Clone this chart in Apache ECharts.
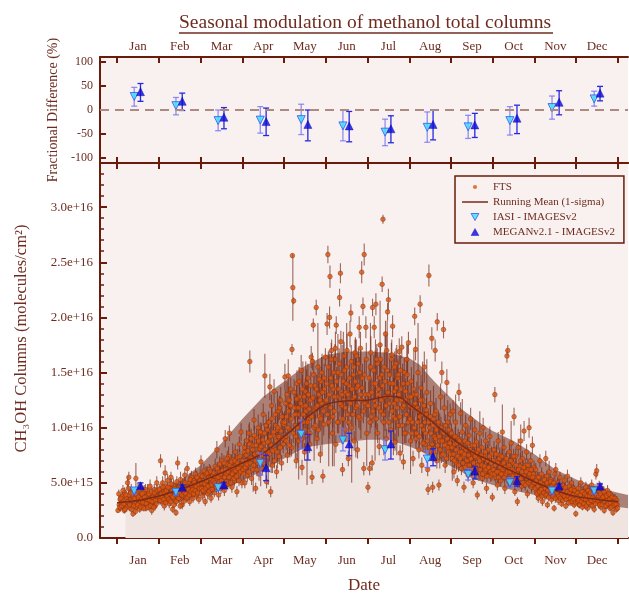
<!DOCTYPE html>
<html>
<head>
<meta charset="utf-8">
<title>Seasonal modulation of methanol total columns</title>
<script src="https://cdn.jsdelivr.net/npm/echarts@6/dist/echarts.min.js"></script>
<style>
  html, body { margin: 0; padding: 0; background: #fff; }
  #chart { width: 629px; height: 594px; }
</style>
</head>
<body>
<div id="chart"></div>
<script>
var FONT = "'Liberation Serif', 'DejaVu Serif', serif";
var AXIS = '#6a1c0c';
var TEXT = '#6e2c20';

// x axis: months, 0 = 1 Jan, 12 = 31 Dec
var months = ['Jan', 'Feb', 'Mar', 'Apr', 'May', 'Jun', 'Jul', 'Aug', 'Sep', 'Oct', 'Nov', 'Dec'];
var monthTicks = [0, 1, 2, 3, 4, 5, 6, 7, 8, 9, 10, 11, 12];
var monthMid = [0.5, 1.5, 2.5, 3.5, 4.5, 5.5, 6.5, 7.5, 8.5, 9.5, 10.5, 11.5];
var xMin = -0.41, xMax = 12.24;

var diffTicks = [-100, -50, 0, 50, 100];
var colTicks = [0, 0.5, 1, 1.5, 2, 2.5, 3];
var colTickLabels = ['0.0', '5.0e+15', '1.0e+16', '1.5e+16', '2.0e+16', '2.5e+16', '3.0e+16'];

// monthly model comparisons
var iasiX = [0.41, 1.41, 2.42, 3.43, 4.41, 5.41, 6.42, 7.43, 8.41, 9.41, 10.42, 11.43];
var meganX = [0.56, 1.56, 2.56, 3.57, 4.57, 5.56, 6.56, 7.57, 8.57, 9.58, 10.59, 11.57];

// fractional difference (%)
var iasiDiff = [28, 9, -22, -21, -20, -33, -46, -36, -35, -22, 5, 23];
var iasiDiffLo = [8, -10, -43, -48, -51, -64, -74, -67, -59, -52, -19, 8];
var iasiDiffHi = [47, 26, 0, 7, 12, 0, -19, -4, -11, 7, 29, 39];
var meganDiff = [38, 18, -15, -24, -30, -33, -39, -30, -31, -17, 16, 35];
var meganDiffLo = [18, -1, -39, -53, -64, -66, -68, -62, -57, -49, -10, 19];
var meganDiffHi = [55, 35, 5, 4, 0, -3, -12, 0, -7, 10, 40, 49];

// columns (1e16 molecules/cm2)
var iasiCol = [0.426, 0.414, 0.456, 0.677, 0.94, 0.888, 0.80, 0.716, 0.577, 0.50, 0.426, 0.426];
var iasiColLo = [0.40, 0.39, 0.43, 0.57, 0.81, 0.79, 0.707, 0.64, 0.526, 0.46, 0.40, 0.40];
var iasiColHi = [0.45, 0.44, 0.48, 0.77, 1.07, 0.995, 0.89, 0.79, 0.63, 0.547, 0.45, 0.45];
var meganCol = [0.474, 0.46, 0.48, 0.637, 0.828, 0.852, 0.852, 0.737, 0.607, 0.52, 0.47, 0.47];
var meganColLo = [0.45, 0.44, 0.455, 0.52, 0.707, 0.746, 0.716, 0.655, 0.535, 0.47, 0.45, 0.45];
var meganColHi = [0.50, 0.48, 0.505, 0.75, 0.94, 0.95, 0.97, 0.81, 0.65, 0.556, 0.49, 0.49];

// running mean and 1-sigma band
var meanX = [0, 0.5, 1, 1.5, 2, 2.5, 3, 3.5, 4, 4.5, 5, 5.5, 6, 6.5, 6.8, 7, 7.5, 8, 8.5, 9, 9.5, 10, 10.5, 11, 11.5, 12];
var meanY = [0.32, 0.34, 0.38, 0.44, 0.51, 0.59, 0.68, 0.77, 0.92, 1.08, 1.21, 1.245, 1.25, 1.285, 1.27, 1.21, 1.07, 0.91, 0.78, 0.69, 0.60, 0.51, 0.43, 0.375, 0.35, 0.33];
var bandX = [0.2, 0.5, 1, 1.5, 2, 2.5, 3, 3.5, 4, 4.5, 5, 5.5, 6, 6.5, 7, 7.25, 7.5, 7.75, 8, 8.25, 8.5, 8.75, 9, 9.5, 10, 10.5, 11, 11.5, 12, 12.24];
var bandHi = [0.37, 0.39, 0.44, 0.52, 0.66, 0.86, 1.08, 1.28, 1.42, 1.56, 1.66, 1.69, 1.69, 1.68, 1.63, 1.57, 1.46, 1.36, 1.27, 1.17, 1.10, 1.03, 0.97, 0.88, 0.76, 0.62, 0.53, 0.46, 0.41, 0.39];
var bandLo = [0.27, 0.28, 0.31, 0.33, 0.38, 0.43, 0.52, 0.61, 0.72, 0.82, 0.85, 0.87, 0.89, 0.89, 0.83, 0.79, 0.74, 0.70, 0.65, 0.60, 0.54, 0.51, 0.48, 0.43, 0.39, 0.35, 0.33, 0.31, 0.28, 0.27];

// FTS measurements [month position, column (1e16), error]
var ftsJan = [[0.02,0.25,0.02],[0.05,0.30,0.03],[0.07,0.35,0.04],[0.08,0.27,0.03],[0.10,0.32,0.05],[0.12,0.38,0.04],[0.13,0.29,0.03],[0.15,0.34,0.06],[0.17,0.25,0.03],[0.18,0.41,0.05],[0.20,0.31,0.04],[0.22,0.36,0.03],[0.23,0.28,0.04],[0.25,0.50,0.06],[0.26,0.33,0.05],[0.28,0.55,0.05],[0.29,0.39,0.04],[0.31,0.27,0.03],[0.33,0.35,0.07],[0.34,0.44,0.05],[0.36,0.30,0.04],[0.38,0.22,0.03],[0.39,0.37,0.05],[0.41,0.32,0.06],[0.43,0.40,0.04],[0.45,0.54,0.14],[0.46,0.28,0.04],[0.48,0.35,0.05],[0.50,0.42,0.08],[0.52,0.31,0.04],[0.54,0.26,0.03],[0.55,0.38,0.05],[0.57,0.33,0.06],[0.59,0.45,0.05],[0.61,0.29,0.04],[0.63,0.36,0.05],[0.65,0.41,0.07],[0.67,0.32,0.04],[0.69,0.27,0.03],[0.71,0.38,0.05],[0.73,0.43,0.06],[0.75,0.34,0.04],[0.77,0.30,0.05],[0.79,0.47,0.06],[0.81,0.36,0.04],[0.83,0.25,0.04],[0.85,0.40,0.05],[0.87,0.33,0.06],[0.89,0.44,0.05],[0.91,0.29,0.04],[0.93,0.38,0.05],[0.95,0.50,0.06],[0.97,0.35,0.04]];
var ftsJan2 = [[0.04,0.40,0.04],[0.06,0.28,0.03],[0.09,0.36,0.04],[0.11,0.29,0.03],[0.14,0.43,0.05],[0.16,0.31,0.04],[0.19,0.26,0.03],[0.21,0.39,0.05],[0.24,0.33,0.04],[0.27,0.45,0.05],[0.30,0.30,0.03],[0.32,0.41,0.05],[0.35,0.26,0.03],[0.37,0.34,0.04],[0.40,0.29,0.03],[0.42,0.36,0.05],[0.44,0.24,0.03],[0.47,0.39,0.04],[0.49,0.30,0.04],[0.51,0.37,0.05],[0.53,0.44,0.05],[0.56,0.28,0.03],[0.58,0.35,0.04],[0.60,0.40,0.05],[0.62,0.32,0.04],[0.64,0.27,0.03],[0.66,0.37,0.05],[0.68,0.44,0.05],[0.70,0.31,0.04],[0.72,0.35,0.04],[0.74,0.28,0.03],[0.76,0.40,0.05],[0.78,0.34,0.04],[0.80,0.29,0.03],[0.82,0.42,0.05],[0.84,0.33,0.04],[0.86,0.37,0.05],[0.88,0.28,0.03],[0.90,0.41,0.05],[0.92,0.34,0.04],[0.94,0.31,0.04],[0.96,0.43,0.05],[0.98,0.38,0.04]];
var ftsFeb = [[1.02,0.38,0.05],[1.04,0.70,0.06],[1.05,0.45,0.05],[1.07,0.33,0.04],[1.09,0.50,0.06],[1.11,0.42,0.05],[1.13,0.29,0.04],[1.15,0.59,0.07],[1.17,0.47,0.05],[1.19,0.36,0.05],[1.21,0.52,0.06],[1.23,0.40,0.04],[1.25,0.31,0.04],[1.27,0.45,0.10],[1.29,0.55,0.05],[1.31,0.38,0.05],[1.33,0.26,0.03],[1.35,0.48,0.06],[1.37,0.42,0.05],[1.39,0.34,0.04],[1.41,0.23,0.03],[1.43,0.51,0.05],[1.45,0.68,0.06],[1.46,0.40,0.06],[1.48,0.46,0.05],[1.50,0.35,0.04],[1.52,0.53,0.07],[1.54,0.43,0.05],[1.56,0.30,0.04],[1.58,0.49,0.05],[1.60,0.38,0.06],[1.62,0.57,0.06],[1.64,0.45,0.05],[1.66,0.36,0.04],[1.68,0.63,0.06],[1.70,0.42,0.05],[1.72,0.50,0.06],[1.74,0.33,0.04],[1.76,0.47,0.05],[1.78,0.55,0.06],[1.80,0.40,0.05],[1.82,0.36,0.04],[1.84,0.52,0.05],[1.86,0.45,0.06],[1.88,0.58,0.06],[1.90,0.39,0.05],[1.92,0.48,0.05],[1.94,0.43,0.05],[1.96,0.35,0.04],[1.98,0.52,0.06]];
var ftsFeb2 = [[1.01,0.44,0.05],[1.03,0.34,0.04],[1.06,0.40,0.05],[1.08,0.37,0.04],[1.10,0.46,0.05],[1.12,0.35,0.04],[1.14,0.41,0.05],[1.16,0.32,0.04],[1.18,0.43,0.05],[1.20,0.38,0.04],[1.22,0.46,0.05],[1.24,0.35,0.04],[1.26,0.40,0.05],[1.28,0.33,0.04],[1.30,0.49,0.05],[1.32,0.43,0.05],[1.34,0.37,0.04],[1.36,0.30,0.04],[1.38,0.45,0.05],[1.40,0.39,0.04],[1.42,0.33,0.04],[1.44,0.44,0.05],[1.47,0.36,0.04],[1.49,0.41,0.05],[1.51,0.29,0.03],[1.53,0.47,0.05],[1.55,0.39,0.04],[1.57,0.44,0.05],[1.59,0.33,0.04],[1.61,0.41,0.05],[1.63,0.50,0.05],[1.65,0.40,0.04],[1.67,0.46,0.05],[1.69,0.37,0.04],[1.71,0.44,0.05],[1.73,0.39,0.04],[1.75,0.53,0.06],[1.77,0.42,0.05],[1.79,0.48,0.05],[1.81,0.44,0.05],[1.83,0.40,0.04],[1.85,0.50,0.05],[1.87,0.43,0.05],[1.89,0.47,0.05],[1.91,0.55,0.06],[1.93,0.41,0.05],[1.95,0.49,0.05],[1.97,0.45,0.05],[1.99,0.57,0.06]];
var ftsMar = [[2.01,0.69,0.06],[2.03,0.45,0.05],[2.05,0.38,0.04],[2.07,0.52,0.06],[2.09,0.42,0.05],[2.11,0.33,0.04],[2.13,0.58,0.07],[2.15,0.47,0.05],[2.17,0.40,0.05],[2.19,0.55,0.06],[2.21,0.62,0.05],[2.23,0.44,0.06],[2.25,0.36,0.04],[2.27,0.50,0.12],[2.29,0.57,0.06],[2.31,0.46,0.05],[2.33,0.41,0.04],[2.35,0.65,0.07],[2.37,0.53,0.06],[2.39,0.80,0.08],[2.41,0.48,0.05],[2.43,0.39,0.05],[2.45,0.60,0.06],[2.47,0.55,0.10],[2.49,0.45,0.05],[2.51,0.70,0.07],[2.53,0.51,0.06],[2.55,0.62,0.05],[2.57,0.43,0.05],[2.59,0.90,0.08],[2.61,0.58,0.06],[2.63,0.67,0.06],[2.65,0.49,0.05],[2.67,0.74,0.09],[2.69,0.95,0.07],[2.71,0.56,0.06],[2.73,0.63,0.05],[2.75,0.46,0.05],[2.77,0.71,0.15],[2.79,0.60,0.06],[2.81,0.52,0.05],[2.83,0.78,0.07],[2.85,0.66,0.06],[2.87,0.42,0.05],[2.89,0.73,0.08],[2.91,0.58,0.06],[2.93,0.85,0.07],[2.95,0.64,0.06],[2.97,0.96,0.08],[2.99,0.50,0.05]];
var ftsMar2 = [[2.02,0.50,0.05],[2.04,0.56,0.06],[2.06,0.43,0.05],[2.08,0.61,0.06],[2.10,0.49,0.05],[2.12,0.45,0.05],[2.14,0.52,0.06],[2.16,0.59,0.06],[2.18,0.47,0.05],[2.20,0.42,0.05],[2.22,0.54,0.06],[2.24,0.60,0.06],[2.26,0.48,0.05],[2.28,0.44,0.05],[2.30,0.52,0.06],[2.32,0.59,0.06],[2.34,0.50,0.05],[2.36,0.56,0.06],[2.38,0.46,0.05],[2.40,0.63,0.06],[2.42,0.55,0.06],[2.44,0.51,0.05],[2.46,0.67,0.07],[2.48,0.58,0.06],[2.50,0.52,0.05],[2.52,0.61,0.06],[2.54,0.48,0.05],[2.56,0.68,0.07],[2.58,0.55,0.06],[2.60,0.62,0.06],[2.62,0.51,0.05],[2.64,0.72,0.07],[2.66,0.60,0.06],[2.68,0.55,0.06],[2.70,0.66,0.07],[2.72,0.50,0.05],[2.74,0.69,0.07],[2.76,0.58,0.06],[2.78,0.64,0.06],[2.80,0.54,0.06],[2.82,0.70,0.07],[2.84,0.61,0.06],[2.86,0.56,0.06],[2.88,0.68,0.07],[2.90,0.63,0.06],[2.92,0.52,0.05],[2.94,0.74,0.07],[2.96,0.60,0.06],[2.98,0.67,0.07]];
var ftsApr = [[3.02,0.62,0.06],[3.04,0.78,0.08],[3.06,0.50,0.05],[3.08,0.70,0.07],[3.10,0.88,0.10],[3.12,0.57,0.06],[3.14,0.66,0.07],[3.16,0.95,0.08],[3.18,1.60,0.10],[3.20,0.73,0.07],[3.22,0.54,0.06],[3.24,0.84,0.09],[3.26,0.62,0.20],[3.28,1.07,0.10],[3.30,0.76,0.07],[3.32,0.45,0.05],[3.34,0.91,0.08],[3.36,0.68,0.07],[3.38,1.00,0.12],[3.40,0.58,0.06],[3.42,0.81,0.08],[3.44,0.72,0.25],[3.46,0.95,0.09],[3.48,0.63,0.06],[3.50,1.12,0.10],[3.52,0.86,0.08],[3.54,1.47,0.20],[3.56,0.70,0.07],[3.58,0.51,0.06],[3.60,0.98,0.09],[3.62,0.78,0.30],[3.64,0.88,0.08],[3.66,1.37,0.12],[3.68,0.42,0.05],[3.70,1.20,0.10],[3.72,0.66,0.07],[3.74,0.93,0.09],[3.76,1.33,0.11],[3.78,0.80,0.08],[3.80,1.02,0.10],[3.82,0.60,0.06],[3.84,0.98,0.35],[3.86,1.15,0.10],[3.88,0.74,0.07],[3.90,0.90,0.09],[3.92,1.25,0.12],[3.94,0.68,0.07],[3.96,1.05,0.10],[3.98,0.85,0.08]];
var ftsApr2 = [[3.01,0.70,0.07],[3.03,0.58,0.06],[3.05,0.82,0.08],[3.07,0.64,0.06],[3.09,0.75,0.07],[3.11,0.67,0.07],[3.13,0.79,0.08],[3.15,0.60,0.06],[3.17,0.85,0.20],[3.19,0.68,0.07],[3.21,0.90,0.09],[3.23,0.72,0.07],[3.25,0.80,0.08],[3.27,0.66,0.07],[3.29,0.93,0.09],[3.31,0.70,0.07],[3.33,0.84,0.08],[3.35,0.62,0.06],[3.37,0.77,0.08],[3.39,0.88,0.09],[3.41,0.71,0.07],[3.43,0.96,0.09],[3.45,0.83,0.08],[3.47,0.75,0.07],[3.49,0.89,0.09],[3.51,0.68,0.07],[3.53,0.95,0.09],[3.55,0.80,0.08],[3.57,1.02,0.10],[3.59,0.73,0.07],[3.61,0.87,0.08],[3.63,1.05,0.10],[3.65,0.76,0.07],[3.67,0.92,0.09],[3.69,0.84,0.25],[3.71,1.08,0.10],[3.73,0.79,0.08],[3.75,0.96,0.09],[3.77,0.70,0.07],[3.79,1.12,0.10],[3.81,0.88,0.08],[3.83,0.78,0.08],[3.85,1.00,0.10],[3.87,0.92,0.09],[3.89,1.18,0.11],[3.91,0.82,0.08],[3.93,0.97,0.09],[3.95,1.10,0.10],[3.97,0.90,0.09],[3.99,1.03,0.10]];
var ftsMay = [[4.02,1.46,0.12],[4.04,0.92,0.08],[4.06,1.10,0.10],[4.08,0.75,0.07],[4.10,1.47,0.15],[4.12,1.25,0.12],[4.14,0.98,0.25],[4.16,1.35,0.10],[4.18,0.82,0.08],[4.19,1.71,0.05],[4.20,2.56,0.02],[4.21,2.27,0.30],[4.23,2.15,0.03],[4.25,1.18,0.10],[4.27,1.02,0.30],[4.29,0.70,0.07],[4.31,1.40,0.12],[4.33,1.12,0.10],[4.35,0.88,0.35],[4.37,1.28,0.11],[4.39,0.96,0.09],[4.41,1.52,0.14],[4.43,0.64,0.07],[4.45,1.20,0.40],[4.47,1.05,0.10],[4.49,0.78,0.08],[4.51,1.33,0.12],[4.53,1.15,0.10],[4.55,0.93,0.45],[4.57,1.45,0.13],[4.59,1.08,0.10],[4.61,0.85,0.08],[4.63,1.25,0.12],[4.65,1.64,0.10],[4.67,0.55,0.06],[4.68,1.60,0.08],[4.70,1.93,0.06],[4.72,1.00,0.30],[4.74,1.38,0.12],[4.76,1.18,0.10],[4.77,2.09,0.07],[4.79,0.90,0.09],[4.81,1.55,0.40],[4.83,1.30,0.11],[4.85,1.10,0.10],[4.87,0.76,0.08],[4.89,1.42,0.13],[4.91,1.22,0.45],[4.93,0.56,0.06],[4.95,1.03,0.10],[4.97,1.35,0.12],[4.99,1.64,0.08]];
var ftsMay2 = [[4.01,1.05,0.10],[4.03,1.22,0.12],[4.05,0.88,0.08],[4.07,1.30,0.12],[4.09,1.00,0.10],[4.11,1.15,0.11],[4.13,0.84,0.08],[4.15,1.20,0.12],[4.17,1.08,0.10],[4.22,0.95,0.09],[4.24,1.32,0.12],[4.26,1.12,0.11],[4.28,0.92,0.09],[4.30,1.26,0.12],[4.32,1.00,0.30],[4.34,1.18,0.11],[4.36,1.42,0.13],[4.38,1.06,0.10],[4.40,1.22,0.12],[4.42,0.90,0.09],[4.44,1.35,0.13],[4.46,1.12,0.11],[4.48,1.28,0.12],[4.50,0.98,0.09],[4.52,1.20,0.40],[4.54,1.40,0.13],[4.56,1.05,0.10],[4.58,1.30,0.12],[4.60,1.17,0.11],[4.62,0.95,0.09],[4.64,1.38,0.13],[4.66,1.10,0.10],[4.69,1.27,0.12],[4.71,1.48,0.14],[4.73,1.15,0.11],[4.75,1.02,0.10],[4.78,1.35,0.13],[4.80,1.20,0.11],[4.82,0.98,0.09],[4.84,1.44,0.13],[4.86,1.25,0.12],[4.88,1.08,0.10],[4.90,1.50,0.14],[4.92,1.32,0.12],[4.94,1.15,0.11],[4.96,1.45,0.13],[4.98,1.20,0.11]];
var ftsJun = [[5.01,1.25,0.12],[5.03,1.94,0.10],[5.05,2.57,0.08],[5.07,1.05,0.40],[5.09,2.00,0.10],[5.10,2.37,0.10],[5.12,1.45,0.13],[5.14,1.70,0.10],[5.16,0.95,0.30],[5.18,1.35,0.12],[5.20,1.15,0.50],[5.22,1.62,0.14],[5.24,0.85,0.08],[5.25,1.93,0.08],[5.27,1.28,0.12],[5.29,1.50,0.35],[5.31,1.05,0.10],[5.33,2.18,0.08],[5.35,2.40,0.09],[5.36,1.78,0.10],[5.38,1.20,0.12],[5.40,0.62,0.06],[5.42,1.42,0.45],[5.44,1.65,0.13],[5.46,0.98,0.10],[5.48,1.32,0.12],[5.50,1.55,0.40],[5.52,1.12,0.10],[5.54,0.72,0.07],[5.56,1.38,0.13],[5.58,1.85,0.12],[5.60,2.04,0.08],[5.62,1.00,0.50],[5.64,1.25,0.12],[5.66,1.48,0.14],[5.68,0.88,0.09],[5.70,1.68,0.12],[5.72,1.18,0.45],[5.74,1.36,0.12],[5.76,0.80,0.08],[5.78,1.58,0.14],[5.80,1.91,0.10],[5.82,1.08,0.10],[5.84,1.30,0.40],[5.86,2.41,0.10],[5.88,1.45,0.13],[5.89,2.10,0.08],[5.91,0.63,0.06],[5.92,2.57,0.10],[5.94,1.22,0.12],[5.96,1.91,0.10],[5.98,0.95,0.30]];
var ftsJun2 = [[5.02,1.40,0.13],[5.04,1.12,0.11],[5.06,1.55,0.14],[5.08,1.30,0.40],[5.11,1.18,0.11],[5.13,1.62,0.15],[5.15,1.38,0.13],[5.17,1.10,0.10],[5.19,1.50,0.14],[5.21,1.28,0.12],[5.23,1.72,0.15],[5.26,1.42,0.13],[5.28,1.05,0.10],[5.30,1.35,0.12],[5.32,1.58,0.14],[5.34,1.22,0.12],[5.37,1.48,0.14],[5.39,1.30,0.45],[5.41,1.08,0.10],[5.43,1.25,0.12],[5.45,1.52,0.14],[5.47,1.18,0.11],[5.49,1.40,0.13],[5.51,1.70,0.15],[5.53,1.30,0.12],[5.55,1.05,0.10],[5.57,1.45,0.13],[5.59,1.22,0.12],[5.61,1.60,0.15],[5.63,1.35,0.13],[5.65,1.12,0.11],[5.67,1.55,0.14],[5.69,1.28,0.12],[5.71,1.42,0.40],[5.73,1.65,0.15],[5.75,1.20,0.11],[5.77,1.38,0.13],[5.79,1.10,0.10],[5.81,1.50,0.14],[5.83,1.72,0.15],[5.85,1.25,0.12],[5.87,1.36,0.13],[5.90,1.15,0.11],[5.93,1.48,0.14],[5.95,1.30,0.12],[5.97,1.62,0.15],[5.99,1.20,0.11]];
var ftsJul = [[6.01,0.46,0.05],[6.03,1.30,0.12],[6.05,0.63,0.06],[6.07,1.55,0.40],[6.09,1.10,0.10],[6.11,0.68,0.07],[6.12,2.09,0.08],[6.14,1.40,0.13],[6.16,1.91,0.10],[6.18,1.20,0.50],[6.20,2.12,0.10],[6.22,1.62,0.14],[6.24,0.95,0.09],[6.26,1.35,0.12],[6.28,0.83,0.08],[6.30,1.75,0.40],[6.32,1.15,0.10],[6.34,1.48,0.13],[6.35,2.30,0.07],[6.37,2.89,0.04],[6.39,1.05,0.30],[6.41,1.28,0.12],[6.43,1.85,0.12],[6.45,0.90,0.09],[6.47,1.52,0.45],[6.48,2.05,0.08],[6.50,2.16,0.10],[6.52,1.22,0.12],[6.54,1.40,0.13],[6.56,0.98,0.10],[6.58,1.66,0.14],[6.60,1.92,0.10],[6.62,1.10,0.35],[6.64,1.33,0.12],[6.66,0.87,0.08],[6.68,1.58,0.14],[6.70,1.25,0.50],[6.72,1.45,0.13],[6.74,1.02,0.10],[6.76,1.69,0.12],[6.78,0.77,0.07],[6.80,1.35,0.12],[6.82,1.73,0.10],[6.84,1.18,0.40],[6.86,0.69,0.07],[6.88,1.50,0.13],[6.90,1.25,0.12],[6.92,0.95,0.09],[6.94,1.62,0.14],[6.96,1.40,0.35],[6.98,1.77,0.10]];
var ftsJul2 = [[6.02,1.20,0.11],[6.04,1.45,0.13],[6.06,1.05,0.10],[6.08,1.68,0.15],[6.10,1.32,0.12],[6.13,1.15,0.11],[6.15,1.52,0.14],[6.17,1.25,0.12],[6.19,1.40,0.40],[6.21,1.08,0.10],[6.23,1.58,0.14],[6.25,1.30,0.12],[6.27,1.18,0.11],[6.29,1.45,0.13],[6.31,1.62,0.15],[6.33,1.25,0.12],[6.36,1.38,0.13],[6.38,1.12,0.10],[6.40,1.55,0.14],[6.42,1.42,0.45],[6.44,1.20,0.11],[6.46,1.70,0.15],[6.49,1.32,0.12],[6.51,1.05,0.10],[6.53,1.48,0.14],[6.55,1.28,0.12],[6.57,1.62,0.15],[6.59,1.15,0.11],[6.61,1.40,0.13],[6.63,1.22,0.40],[6.65,1.55,0.14],[6.67,1.08,0.10],[6.69,1.36,0.13],[6.71,1.18,0.11],[6.73,1.48,0.14],[6.75,1.30,0.12],[6.77,1.10,0.10],[6.79,1.52,0.14],[6.81,1.25,0.12],[6.83,1.02,0.10],[6.85,1.40,0.13],[6.87,1.20,0.11],[6.89,0.95,0.09],[6.91,1.33,0.12],[6.93,1.12,0.11],[6.95,1.48,0.14],[6.97,1.05,0.10],[6.99,1.28,0.12]];
var ftsAug = [[7.01,1.20,0.12],[7.03,0.88,0.30],[7.05,1.42,0.13],[7.07,1.05,0.10],[7.09,0.72,0.07],[7.11,1.30,0.40],[7.13,2.01,0.08],[7.15,1.71,0.10],[7.17,0.95,0.09],[7.19,1.18,0.12],[7.21,1.50,0.45],[7.23,0.80,0.08],[7.25,1.10,0.10],[7.26,2.12,0.08],[7.28,1.36,0.12],[7.30,0.66,0.07],[7.32,1.25,0.35],[7.34,0.98,0.09],[7.36,1.55,0.14],[7.38,0.85,0.08],[7.40,1.12,0.10],[7.42,1.32,0.30],[7.44,0.62,0.06],[7.45,0.44,0.05],[7.47,2.38,0.10],[7.49,1.00,0.10],[7.51,1.22,0.12],[7.53,0.78,0.08],[7.54,1.81,0.10],[7.56,0.46,0.05],[7.58,1.08,0.30],[7.60,0.92,0.09],[7.62,1.70,0.10],[7.64,1.15,0.12],[7.66,0.70,0.07],[7.67,1.96,0.08],[7.69,1.02,0.10],[7.71,0.48,0.05],[7.73,0.88,0.25],[7.75,1.28,0.12],[7.77,0.75,0.07],[7.78,1.50,0.10],[7.80,0.96,0.09],[7.82,1.89,0.08],[7.84,1.18,0.12],[7.86,0.66,0.07],[7.88,0.85,0.08],[7.90,1.41,0.12],[7.92,1.05,0.20],[7.94,0.78,0.08],[7.96,0.92,0.09],[7.98,1.12,0.10]];
var ftsAug2 = [[7.02,1.08,0.10],[7.04,1.28,0.12],[7.06,0.95,0.09],[7.08,1.18,0.11],[7.10,1.35,0.13],[7.12,1.00,0.10],[7.14,1.22,0.12],[7.16,0.90,0.09],[7.18,1.30,0.12],[7.20,1.05,0.10],[7.22,1.15,0.11],[7.24,0.92,0.09],[7.27,1.25,0.12],[7.29,1.02,0.10],[7.31,1.12,0.30],[7.33,0.86,0.08],[7.35,1.20,0.11],[7.37,1.05,0.10],[7.39,0.95,0.09],[7.41,1.16,0.11],[7.43,0.88,0.08],[7.46,1.05,0.10],[7.48,0.82,0.08],[7.50,1.10,0.11],[7.52,0.95,0.09],[7.55,0.85,0.08],[7.57,1.02,0.10],[7.59,0.78,0.08],[7.61,1.12,0.11],[7.63,0.90,0.09],[7.65,0.98,0.09],[7.68,0.84,0.08],[7.70,1.05,0.10],[7.72,0.92,0.09],[7.74,0.80,0.08],[7.76,1.00,0.10],[7.79,0.88,0.08],[7.81,0.76,0.07],[7.83,0.95,0.09],[7.85,0.84,0.08],[7.87,1.02,0.10],[7.89,0.72,0.07],[7.91,0.90,0.09],[7.93,0.82,0.08],[7.95,0.98,0.09],[7.97,0.86,0.08],[7.99,0.76,0.07]];
var ftsSep = [[8.01,0.95,0.09],[8.03,0.72,0.20],[8.05,1.15,0.10],[8.07,0.60,0.06],[8.09,0.85,0.08],[8.11,1.05,0.25],[8.13,0.68,0.07],[8.15,0.52,0.05],[8.17,0.90,0.09],[8.19,1.32,0.08],[8.21,0.78,0.07],[8.23,1.13,0.10],[8.25,0.63,0.06],[8.27,0.96,0.30],[8.29,0.74,0.07],[8.31,0.46,0.05],[8.33,0.88,0.08],[8.35,1.02,0.10],[8.37,0.66,0.06],[8.39,0.80,0.20],[8.41,0.57,0.06],[8.43,0.93,0.09],[8.45,0.71,0.07],[8.47,1.08,0.10],[8.49,0.62,0.06],[8.51,0.84,0.25],[8.53,0.50,0.05],[8.55,0.76,0.07],[8.57,0.98,0.09],[8.59,0.65,0.06],[8.61,0.87,0.08],[8.63,0.39,0.04],[8.65,0.72,0.07],[8.67,0.58,0.06],[8.69,0.95,0.20],[8.71,0.68,0.07],[8.73,0.82,0.08],[8.75,0.54,0.05],[8.77,1.00,0.09],[8.79,0.74,0.07],[8.81,0.60,0.06],[8.83,0.88,0.08],[8.85,0.45,0.05],[8.87,0.70,0.15],[8.89,0.80,0.08],[8.91,0.63,0.06],[8.93,0.92,0.09],[8.95,0.56,0.05],[8.97,0.76,0.07],[8.99,0.37,0.04]];
var ftsSep2 = [[8.02,0.82,0.08],[8.04,0.90,0.09],[8.06,0.76,0.07],[8.08,0.70,0.07],[8.10,0.92,0.09],[8.12,0.80,0.08],[8.14,0.86,0.08],[8.16,0.74,0.07],[8.18,0.66,0.06],[8.20,0.88,0.08],[8.22,0.72,0.07],[8.24,0.84,0.08],[8.26,0.78,0.07],[8.28,0.68,0.07],[8.30,0.82,0.08],[8.32,0.76,0.07],[8.34,0.64,0.06],[8.36,0.80,0.08],[8.38,0.70,0.07],[8.40,0.86,0.08],[8.42,0.75,0.07],[8.44,0.66,0.06],[8.46,0.80,0.08],[8.48,0.72,0.07],[8.50,0.62,0.06],[8.52,0.78,0.07],[8.54,0.68,0.07],[8.56,0.84,0.08],[8.58,0.74,0.07],[8.60,0.60,0.06],[8.62,0.77,0.07],[8.64,0.66,0.06],[8.66,0.80,0.08],[8.68,0.70,0.07],[8.70,0.62,0.06],[8.72,0.75,0.07],[8.74,0.66,0.06],[8.76,0.58,0.06],[8.78,0.72,0.07],[8.80,0.65,0.06],[8.82,0.78,0.07],[8.84,0.62,0.06],[8.86,0.56,0.05],[8.88,0.70,0.07],[8.90,0.64,0.06],[8.92,0.74,0.07],[8.94,0.60,0.06],[8.96,0.68,0.07],[8.98,0.58,0.06]];
var ftsOct = [[9.01,0.62,0.06],[9.03,0.80,0.08],[9.05,1.30,0.07],[9.07,0.55,0.05],[9.09,0.70,0.15],[9.11,0.48,0.05],[9.13,0.88,0.08],[9.15,0.60,0.06],[9.17,0.75,0.07],[9.19,0.52,0.05],[9.21,0.66,0.07],[9.23,0.96,0.25],[9.25,0.58,0.06],[9.27,0.82,0.08],[9.29,0.45,0.05],[9.31,0.70,0.07],[9.34,1.65,0.06],[9.36,1.70,0.05],[9.38,0.63,0.06],[9.40,0.78,0.07],[9.42,0.50,0.05],[9.44,0.86,0.20],[9.46,0.57,0.06],[9.48,0.68,0.07],[9.51,1.10,0.08],[9.53,0.42,0.04],[9.55,0.74,0.07],[9.57,0.60,0.06],[9.59,0.33,0.04],[9.61,0.82,0.08],[9.63,0.53,0.05],[9.65,0.65,0.06],[9.67,0.88,0.15],[9.69,0.47,0.05],[9.71,0.72,0.07],[9.73,0.58,0.06],[9.75,0.97,0.09],[9.77,0.50,0.05],[9.79,0.66,0.06],[9.81,0.78,0.07],[9.83,0.40,0.04],[9.85,0.62,0.06],[9.87,1.00,0.09],[9.89,0.55,0.05],[9.91,0.70,0.07],[9.93,0.46,0.05],[9.95,0.84,0.08],[9.97,0.58,0.06],[9.99,0.64,0.06]];
var ftsOct2 = [[9.02,0.70,0.07],[9.04,0.58,0.06],[9.06,0.66,0.06],[9.08,0.76,0.07],[9.10,0.60,0.06],[9.12,0.68,0.07],[9.14,0.55,0.05],[9.16,0.72,0.07],[9.18,0.64,0.06],[9.20,0.58,0.06],[9.22,0.74,0.07],[9.24,0.62,0.06],[9.26,0.68,0.07],[9.28,0.55,0.05],[9.30,0.64,0.06],[9.32,0.58,0.06],[9.33,0.72,0.07],[9.35,0.60,0.06],[9.37,0.52,0.05],[9.39,0.66,0.06],[9.41,0.60,0.06],[9.43,0.70,0.07],[9.45,0.54,0.05],[9.47,0.62,0.06],[9.49,0.56,0.05],[9.50,0.74,0.07],[9.52,0.60,0.06],[9.54,0.52,0.05],[9.56,0.66,0.06],[9.58,0.58,0.06],[9.60,0.50,0.05],[9.62,0.62,0.06],[9.64,0.56,0.05],[9.66,0.70,0.07],[9.68,0.54,0.05],[9.70,0.60,0.06],[9.72,0.50,0.05],[9.74,0.64,0.06],[9.76,0.56,0.05],[9.78,0.48,0.05],[9.80,0.60,0.06],[9.82,0.54,0.05],[9.84,0.66,0.06],[9.86,0.50,0.05],[9.88,0.58,0.06],[9.90,0.52,0.05],[9.92,0.62,0.06],[9.94,0.48,0.05],[9.96,0.55,0.05],[9.98,0.50,0.05]];
var ftsNov = [[10.01,0.50,0.05],[10.03,0.62,0.06],[10.05,0.42,0.05],[10.07,0.55,0.05],[10.09,0.36,0.04],[10.11,0.48,0.05],[10.13,0.70,0.06],[10.15,0.40,0.04],[10.17,0.58,0.06],[10.19,0.33,0.04],[10.21,0.52,0.05],[10.23,0.45,0.05],[10.25,0.38,0.04],[10.27,0.72,0.07],[10.29,0.56,0.05],[10.31,0.30,0.03],[10.33,0.47,0.05],[10.35,0.60,0.10],[10.37,0.41,0.04],[10.39,0.53,0.05],[10.41,0.35,0.04],[10.43,0.49,0.05],[10.45,0.44,0.05],[10.47,0.27,0.03],[10.49,0.58,0.06],[10.51,0.62,0.06],[10.53,0.39,0.04],[10.55,0.50,0.05],[10.57,0.34,0.04],[10.59,0.46,0.08],[10.61,0.55,0.05],[10.63,0.42,0.04],[10.65,0.31,0.03],[10.67,0.48,0.05],[10.69,0.38,0.04],[10.71,0.52,0.05],[10.73,0.44,0.05],[10.75,0.29,0.03],[10.77,0.40,0.04],[10.79,0.56,0.06],[10.81,0.35,0.04],[10.83,0.47,0.05],[10.85,0.42,0.05],[10.87,0.33,0.04],[10.89,0.50,0.05],[10.91,0.38,0.04],[10.93,0.45,0.05],[10.95,0.30,0.03],[10.97,0.41,0.04],[10.99,0.22,0.03]];
var ftsNov2 = [[10.02,0.45,0.05],[10.04,0.52,0.05],[10.06,0.40,0.04],[10.08,0.47,0.05],[10.10,0.55,0.05],[10.12,0.42,0.04],[10.14,0.50,0.05],[10.16,0.44,0.04],[10.18,0.38,0.04],[10.20,0.48,0.05],[10.22,0.41,0.04],[10.24,0.53,0.05],[10.26,0.45,0.05],[10.28,0.39,0.04],[10.30,0.50,0.05],[10.32,0.43,0.04],[10.34,0.37,0.04],[10.36,0.46,0.05],[10.38,0.51,0.05],[10.40,0.42,0.04],[10.42,0.47,0.05],[10.44,0.38,0.04],[10.46,0.50,0.05],[10.48,0.43,0.04],[10.50,0.36,0.04],[10.52,0.46,0.05],[10.54,0.41,0.04],[10.56,0.48,0.05],[10.58,0.38,0.04],[10.60,0.44,0.04],[10.62,0.36,0.04],[10.64,0.45,0.05],[10.66,0.40,0.04],[10.68,0.34,0.04],[10.70,0.43,0.04],[10.72,0.38,0.04],[10.74,0.46,0.05],[10.76,0.35,0.04],[10.78,0.42,0.04],[10.80,0.38,0.04],[10.82,0.32,0.03],[10.84,0.40,0.04],[10.86,0.36,0.04],[10.88,0.44,0.05],[10.90,0.33,0.04],[10.92,0.39,0.04],[10.94,0.35,0.04],[10.96,0.43,0.05],[10.98,0.32,0.03]];
var ftsDec = [[11.01,0.40,0.04],[11.03,0.33,0.04],[11.05,0.45,0.05],[11.07,0.30,0.03],[11.09,0.38,0.04],[11.11,0.50,0.05],[11.13,0.35,0.04],[11.15,0.28,0.03],[11.17,0.42,0.05],[11.19,0.37,0.04],[11.21,0.31,0.04],[11.23,0.46,0.05],[11.25,0.39,0.04],[11.27,0.27,0.03],[11.29,0.34,0.04],[11.31,0.43,0.05],[11.33,0.36,0.08],[11.35,0.30,0.03],[11.37,0.48,0.05],[11.39,0.40,0.04],[11.41,0.33,0.04],[11.43,0.26,0.03],[11.45,0.44,0.05],[11.47,0.58,0.05],[11.49,0.61,0.06],[11.51,0.37,0.04],[11.53,0.31,0.04],[11.55,0.42,0.10],[11.57,0.35,0.04],[11.59,0.28,0.03],[11.61,0.45,0.05],[11.63,0.38,0.04],[11.65,0.32,0.04],[11.67,0.25,0.03],[11.69,0.40,0.05],[11.71,0.35,0.04],[11.73,0.29,0.03],[11.75,0.43,0.05],[11.77,0.37,0.04],[11.79,0.31,0.04],[11.81,0.27,0.03],[11.83,0.39,0.04],[11.85,0.34,0.04],[11.87,0.30,0.03],[11.88,0.23,0.03],[11.90,0.36,0.04],[11.92,0.28,0.03],[11.94,0.33,0.04],[11.96,0.26,0.03],[11.98,0.30,0.03]];
var ftsDec2 = [[11.02,0.36,0.04],[11.04,0.41,0.04],[11.06,0.34,0.04],[11.08,0.30,0.03],[11.10,0.39,0.04],[11.12,0.33,0.04],[11.14,0.42,0.05],[11.16,0.36,0.04],[11.18,0.31,0.04],[11.20,0.40,0.04],[11.22,0.35,0.04],[11.24,0.29,0.03],[11.26,0.38,0.04],[11.28,0.43,0.05],[11.30,0.32,0.04],[11.32,0.38,0.04],[11.34,0.41,0.04],[11.36,0.34,0.04],[11.38,0.29,0.03],[11.40,0.37,0.04],[11.42,0.42,0.05],[11.44,0.35,0.04],[11.46,0.31,0.04],[11.48,0.39,0.04],[11.50,0.45,0.05],[11.52,0.34,0.04],[11.54,0.38,0.04],[11.56,0.30,0.03],[11.58,0.40,0.04],[11.60,0.35,0.04],[11.62,0.30,0.03],[11.64,0.37,0.04],[11.66,0.42,0.05],[11.68,0.33,0.04],[11.70,0.29,0.03],[11.72,0.38,0.04],[11.74,0.34,0.04],[11.76,0.31,0.04],[11.78,0.40,0.04],[11.80,0.35,0.04],[11.82,0.32,0.04],[11.84,0.28,0.03],[11.86,0.37,0.04],[11.89,0.33,0.04],[11.91,0.30,0.03],[11.93,0.36,0.04],[11.95,0.31,0.04],[11.97,0.34,0.04],[11.99,0.27,0.03]];

var fts = [].concat(ftsJan, ftsJan2, ftsFeb, ftsFeb2, ftsMar, ftsMar2, ftsApr, ftsApr2, ftsMay, ftsMay2, ftsJun, ftsJun2,
  ftsJul, ftsJul2, ftsAug, ftsAug2, ftsSep, ftsSep2, ftsOct, ftsOct2, ftsNov, ftsNov2, ftsDec, ftsDec2);

var chart = echarts.init(document.getElementById('chart'));

function monthAxis(grid, pos, inside, showLabel, margin) {
  return {
    type: 'value', gridIndex: grid, position: pos, min: xMin, max: xMax,
    axisLine: { show: true, onZero: false, lineStyle: { color: AXIS, width: 2 } },
    axisTick: { show: true, inside: inside, length: 6, customValues: monthTicks, lineStyle: { color: AXIS, width: 2 } },
    axisLabel: {
      show: showLabel, customValues: monthMid, margin: margin,
      formatter: function (v) { return months[Math.floor(v)]; },
      color: TEXT, fontFamily: FONT, fontSize: 13
    },
    splitLine: { show: false }
  };
}

// vertical error bar with optional caps
function errBar(color, width, cap) {
  return function (params, api) {
    var x = api.value(0);
    var p1 = api.coord([x, api.value(2)]);
    var p2 = api.coord([x, api.value(1)]);
    var st = { stroke: color, lineWidth: width };
    var kids = [{ type: 'line', shape: { x1: p1[0], y1: p1[1], x2: p2[0], y2: p2[1] }, style: st }];
    if (cap) {
      kids.push({ type: 'line', shape: { x1: p1[0] - cap, y1: p1[1], x2: p1[0] + cap, y2: p1[1] }, style: st });
      kids.push({ type: 'line', shape: { x1: p2[0] - cap, y1: p2[1], x2: p2[0] + cap, y2: p2[1] }, style: st });
    }
    return { type: 'group', children: kids };
  };
}

function bars(xs, lo, hi) {
  return xs.map(function (x, i) { return [x, lo[i], hi[i]]; });
}
function pts(xs, ys) {
  return xs.map(function (x, i) { return [x, ys[i]]; });
}

var IASI_STYLE = { color: '#3ee0fa', borderColor: '#3058f0', borderWidth: 1 };
var MEGAN_STYLE = { color: '#0a0ad8', borderColor: '#0000b0', borderWidth: 0.5 };

var option = {
  animation: false,
  title: {
    text: 'Seasonal modulation of methanol total columns',
    left: 179, top: 13, padding: 0,
    textStyle: { color: TEXT, fontFamily: FONT, fontSize: 19.5, fontWeight: 'normal' }
  },
  graphic: [{
    type: 'line', shape: { x1: 179, y1: 33, x2: 553, y2: 33 },
    style: { stroke: TEXT, lineWidth: 1.5 }
  }],
  legend: {
    orient: 'vertical', left: 455, top: 176, padding: [4, 9, 4, 7],
    itemWidth: 26, itemHeight: 7, itemGap: 1,
    borderColor: AXIS, borderWidth: 1.5, selectedMode: false,
    textStyle: { color: TEXT, fontFamily: FONT, fontSize: 11, lineHeight: 14 },
    data: [
      { name: 'FTS', icon: 'path://M0,0M10,10M5,2A3,3,0,1,1,5,8A3,3,0,1,1,5,2Z', itemStyle: { color: '#dc5612', borderWidth: 0 } },
      { name: 'Running Mean (1-sigma)', icon: 'path://M0,0L26,0L26,1.5L0,1.5Z', itemStyle: { color: '#7a2a1a', borderWidth: 0 } },
      { name: 'IASI - IMAGESv2', icon: 'path://M0,0L10,0L5,9Z', itemStyle: IASI_STYLE },
      { name: 'MEGANv2.1 - IMAGESv2', icon: 'path://M5,0L10,9L0,9Z', itemStyle: MEGAN_STYLE }
    ]
  },
  grid: [
    { left: 100, top: 57, width: 528, height: 106, show: true, backgroundColor: '#f8f1ef', borderWidth: 0, outerBoundsMode: 'none', containLabel: false },
    { left: 100, top: 163, width: 528, height: 375, show: true, backgroundColor: '#f8f1ef', borderWidth: 0, outerBoundsMode: 'none', containLabel: false }
  ],
  xAxis: [
    monthAxis(0, 'top', true, true, 4),
    monthAxis(0, 'bottom', true, false, 6),
    monthAxis(1, 'top', true, false, 6),
    Object.assign(monthAxis(1, 'bottom', false, true, 16), {
      name: 'Date', nameLocation: 'middle', nameGap: 39,
      nameTextStyle: { color: TEXT, fontFamily: FONT, fontSize: 17 }
    })
  ],
  yAxis: [
    {
      type: 'value', gridIndex: 0, position: 'left', min: -110, max: 110,
      axisLine: { show: true, onZero: false, lineStyle: { color: AXIS, width: 2 } },
      axisTick: { show: true, inside: true, length: 6, customValues: diffTicks, lineStyle: { color: AXIS, width: 2 } },
      axisLabel: { customValues: diffTicks, color: TEXT, fontFamily: FONT, fontSize: 12, margin: 7 },
      splitLine: { show: false },
      name: 'Fractional Difference (%)', nameLocation: 'middle', nameRotate: 90, nameGap: 29,
      nameTextStyle: { color: TEXT, fontFamily: FONT, fontSize: 14 }
    },
    {
      type: 'value', gridIndex: 1, position: 'left', min: 0, max: 3.4,
      axisLine: { show: true, onZero: false, lineStyle: { color: AXIS, width: 2 } },
      axisTick: { show: true, inside: true, length: 7, customValues: colTicks, lineStyle: { color: AXIS, width: 2 } },
      axisLabel: {
        customValues: colTicks, color: TEXT, fontFamily: FONT, fontSize: 13, margin: 7,
        formatter: function (v) { return colTickLabels[Math.round(v * 2)]; }
      },
      splitLine: { show: false },
      name: 'CH\u2083OH Columns (molecules/cm\u00b2)', nameLocation: 'middle', nameRotate: 90, nameGap: 70,
      nameTextStyle: { color: TEXT, fontFamily: FONT, fontSize: 16.5, padding: [0, 0, 0, 24] }
    },
    {
      type: 'value', gridIndex: 1, position: 'left', min: 0, max: 3.4, interval: 0.1,
      axisLine: { show: false, onZero: false },
      axisTick: { show: true, inside: true, length: 4, lineStyle: { color: AXIS, width: 1.5 } },
      axisLabel: { show: false },
      splitLine: { show: false }
    }
  ],
  series: [
    // legend-facing series first
    {
      name: 'FTS', type: 'scatter', xAxisIndex: 3, yAxisIndex: 1, z: 4,
      symbol: 'circle', symbolSize: 4.6,
      itemStyle: { color: '#dc5612', borderColor: '#82300f', borderWidth: 0.6 },
      data: fts.map(function (d) { return [d[0], d[1]]; })
    },
    {
      name: 'Running Mean (1-sigma)', type: 'line', xAxisIndex: 3, yAxisIndex: 1, z: 4.5,
      symbol: 'none', smooth: 0.3,
      lineStyle: { color: '#7a2a1a', width: 1.5 },
      itemStyle: { color: '#7a2a1a' },
      data: pts(meanX, meanY)
    },
    {
      name: 'IASI - IMAGESv2', type: 'scatter', xAxisIndex: 0, yAxisIndex: 0, z: 4,
      symbol: 'triangle', symbolRotate: 180, symbolSize: 8, itemStyle: IASI_STYLE,
      data: pts(iasiX, iasiDiff),
      markLine: {
        silent: true, symbol: 'none', label: { show: false },
        lineStyle: { color: '#ad8a82', width: 2, type: [9, 6] },
        data: [{ yAxis: 0 }]
      }
    },
    {
      name: 'MEGANv2.1 - IMAGESv2', type: 'scatter', xAxisIndex: 0, yAxisIndex: 0, z: 4,
      symbol: 'triangle', symbolSize: 8, itemStyle: MEGAN_STYLE,
      data: pts(meganX, meganDiff)
    },
    // top panel error bars
    {
      name: 'IASI - IMAGESv2', type: 'custom', xAxisIndex: 0, yAxisIndex: 0, z: 3,
      renderItem: errBar('rgba(110,110,245,0.75)', 1.3, 3),
      data: bars(iasiX, iasiDiffLo, iasiDiffHi)
    },
    {
      name: 'MEGANv2.1 - IMAGESv2', type: 'custom', xAxisIndex: 0, yAxisIndex: 0, z: 3,
      renderItem: errBar('#2828e0', 1.3, 3),
      data: bars(meganX, meganDiffLo, meganDiffHi)
    },
    // bottom panel: fills
    {
      type: 'custom', xAxisIndex: 3, yAxisIndex: 1, z: 1, silent: true, clip: true,
      renderItem: function (params, api) {
        var p = [];
        for (var i = 0; i < bandX.length; i++) p.push(api.coord([bandX[i], bandLo[i]]));
        p.push(api.coord([bandX[bandX.length - 1], 0]));
        p.push(api.coord([bandX[0], 0]));
        return { type: 'polygon', shape: { points: p }, style: { fill: '#efe4e0' } };
      },
      data: [[bandX[0], 0]]
    },
    {
      type: 'custom', xAxisIndex: 3, yAxisIndex: 1, z: 1, silent: true, clip: true,
      renderItem: function (params, api) {
        var p = [];
        for (var i = 0; i < bandX.length; i++) p.push(api.coord([bandX[i], bandHi[i]]));
        for (var j = bandX.length - 1; j >= 0; j--) p.push(api.coord([bandX[j], bandLo[j]]));
        return { type: 'polygon', shape: { points: p }, style: { fill: '#ab8077' } };
      },
      data: [[bandX[0], bandLo[0]]]
    },
    // FTS error bars
    {
      type: 'custom', xAxisIndex: 3, yAxisIndex: 1, z: 2, silent: true, clip: true,
      renderItem: errBar('rgba(118,44,28,0.7)', 1.1, 0),
      data: fts.map(function (d) { return [d[0], d[1] - d[2], d[1] + d[2]]; })
    },
    // monthly model columns
    {
      name: 'IASI - IMAGESv2', type: 'custom', xAxisIndex: 3, yAxisIndex: 1, z: 5,
      renderItem: errBar('rgba(110,110,245,0.85)', 1.3, 3),
      data: bars(iasiX, iasiColLo, iasiColHi)
    },
    {
      name: 'MEGANv2.1 - IMAGESv2', type: 'custom', xAxisIndex: 3, yAxisIndex: 1, z: 5,
      renderItem: errBar('#2828e0', 1.3, 3),
      data: bars(meganX, meganColLo, meganColHi)
    },
    {
      name: 'IASI - IMAGESv2', type: 'scatter', xAxisIndex: 3, yAxisIndex: 1, z: 6,
      symbol: 'triangle', symbolRotate: 180, symbolSize: 8, itemStyle: IASI_STYLE,
      data: pts(iasiX, iasiCol)
    },
    {
      name: 'MEGANv2.1 - IMAGESv2', type: 'scatter', xAxisIndex: 3, yAxisIndex: 1, z: 6,
      symbol: 'triangle', symbolSize: 8, itemStyle: MEGAN_STYLE,
      data: pts(meganX, meganCol)
    }
  ]
};

chart.setOption(option);
</script>
</body>
</html>
